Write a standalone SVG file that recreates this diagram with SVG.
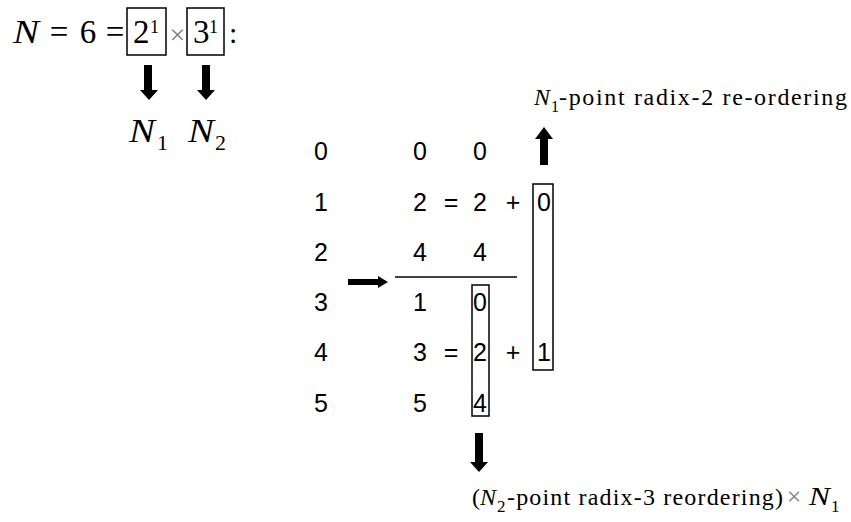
<svg xmlns="http://www.w3.org/2000/svg" width="851" height="522" viewBox="0 0 851 522">
<style>
.serif{font-family:"Liberation Serif","Times New Roman",serif;fill:#000}
.it{font-style:italic}
.sans{font-family:"Liberation Sans",Arial,sans-serif;font-size:25px;fill:#000;text-anchor:middle}
.box{fill:none;stroke:#000;stroke-width:1.5}
.arr{fill:#000;stroke:none}
.grey{fill:#808080}
</style>
<rect width="851" height="522" fill="#fff"/>
<g id="formula">
<text class="serif it" x="13" y="43" font-size="34" textLength="26" lengthAdjust="spacingAndGlyphs">N</text>
<text class="serif" x="59" y="43" font-size="33" text-anchor="middle">=</text>
<text class="serif" x="88" y="43" font-size="33" text-anchor="middle">6</text>
<text class="serif" x="115" y="43" font-size="33" text-anchor="middle">=</text>
<rect class="box" x="127" y="8" width="39" height="47"/>
<text class="serif" x="133" y="43" font-size="33">2</text>
<text class="serif" x="150" y="33" font-size="18">1</text>
<text class="serif grey" x="177.5" y="44" font-size="28" text-anchor="middle">×</text>
<rect class="box" x="187" y="8" width="37" height="47"/>
<text class="serif" x="193" y="43" font-size="33">3</text>
<text class="serif" x="209" y="33" font-size="18">1</text>
<text class="serif" x="229" y="43" font-size="30">:</text>
</g>
<g id="n1">
<text class="serif it" x="129" y="142" font-size="34" textLength="26" lengthAdjust="spacingAndGlyphs">N</text>
<text class="serif" x="157" y="150" font-size="22">1</text>
</g>
<g id="n2">
<text class="serif it" x="188" y="142" font-size="34" textLength="26" lengthAdjust="spacingAndGlyphs">N</text>
<text class="serif" x="215" y="150" font-size="22">2</text>
</g>
<g id="index-column">
<text class="sans" x="321" y="160">0</text>
<text class="sans" x="321" y="211">1</text>
<text class="sans" x="321" y="261">2</text>
<text class="sans" x="321" y="311">3</text>
<text class="sans" x="321" y="361">4</text>
<text class="sans" x="321" y="412">5</text>
</g>
<g id="reordered-column">
<text class="sans" x="420" y="160">0</text>
<text class="sans" x="420" y="211">2</text>
<text class="sans" x="420" y="261">4</text>
<text class="sans" x="420" y="311">1</text>
<text class="sans" x="420" y="361">3</text>
<text class="sans" x="420" y="412">5</text>
</g>
<g id="equations">
<text class="sans" x="451" y="211">=</text>
<text class="sans" x="451" y="361">=</text>
<text class="sans" x="480" y="160">0</text>
<text class="sans" x="480" y="211">2</text>
<text class="sans" x="480" y="261">4</text>
<text class="sans" x="513" y="211">+</text>
<text class="sans" x="513" y="361">+</text>
</g>
<g id="radix3-box">
<rect class="box" x="472" y="285" width="17" height="131"/>
<text class="sans" x="480" y="311">0</text>
<text class="sans" x="480" y="361">2</text>
<text class="sans" x="480" y="412">4</text>
</g>
<g id="radix2-box">
<rect class="box" x="533" y="184" width="20" height="186"/>
<text class="sans" x="544" y="211">0</text>
<text class="sans" x="544" y="361">1</text>
</g>
<g id="label-radix2">
<text class="serif it" x="534" y="105" font-size="24">N</text>
<text class="serif" x="551" y="112" font-size="16">1</text>
<text class="serif" x="559" y="105" font-size="24" textLength="288" lengthAdjust="spacing">-point radix-2 re-ordering</text>
</g>
<g id="label-radix3">
<text class="serif" x="472" y="505" font-size="24">(</text>
<text class="serif it" x="480" y="505" font-size="24">N</text>
<text class="serif" x="497" y="512" font-size="17">2</text>
<text class="serif" x="507" y="505" font-size="24" textLength="276" lengthAdjust="spacing">-point radix-3 reordering)</text>
<text class="serif grey" x="794" y="505" font-size="26" text-anchor="middle">×</text>
<text class="serif it" x="809" y="505" font-size="26" textLength="21" lengthAdjust="spacingAndGlyphs">N</text>
<text class="serif" x="831" y="512" font-size="17">1</text>
</g>
<g id="connectors">
<polygon class="arr" points="144,65 152,65 152,90 158,90 149,100 140,90 144,90"/>
<polygon class="arr" points="202,65 210,65 210,90 215,90 206,100 197,90 202,90"/>
<polygon class="arr" points="475,433 483,433 483,462 488,462 479,472 470,462 475,462"/>
<polygon class="arr" points="540,165 548,165 548,139 553,139 544,127 535,139 540,139"/>
<polygon class="arr" points="348,279 378,279 378,276 388,282 378,288 378,285 348,285"/>
<line x1="395" y1="277" x2="517" y2="277" stroke="#000" stroke-width="1.5"/>
</g>
</svg>
